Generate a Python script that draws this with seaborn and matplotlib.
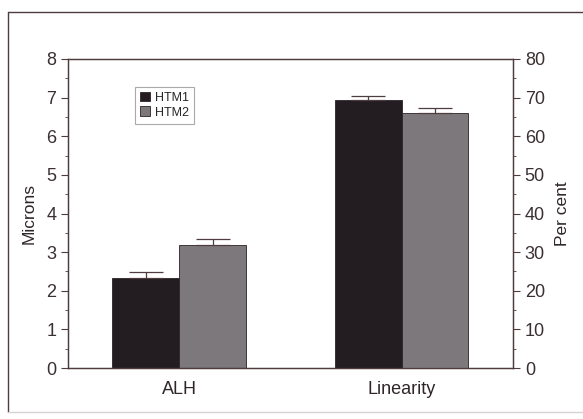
import numpy as np
import pandas as pd
import seaborn as sns
import matplotlib.pyplot as plt
from matplotlib.patches import Patch
from matplotlib.ticker import MultipleLocator

# data
measures = ['ALH', 'Linearity']
groups = ['HTM1', 'HTM2']
alh_mean = [2.33, 3.19]       # microns
alh_err = [0.16, 0.16]
lin_mean = [69.4, 65.9]       # per cent
lin_err = [1.1, 1.3]

colors = {'HTM1': '#241c21', 'HTM2': '#7d777c'}
ink = '#4e3c3e'

df_alh = pd.DataFrame({'measure': 'ALH', 'group': groups, 'value': alh_mean, 'err': alh_err})
df_lin = pd.DataFrame({'measure': 'Linearity', 'group': groups, 'value': lin_mean, 'err': lin_err})

sns.set_style('ticks')
plt.rcParams['font.family'] = ['Liberation Sans', 'DejaVu Sans']

fig = plt.figure(figsize=(5.83, 4.19), dpi=100)
ax = fig.add_axes([0.1166, 0.1217, 0.7633, 0.7375])
ax2 = ax.twinx()

sns.barplot(data=df_alh, x='measure', y='value', hue='group', order=measures,
            hue_order=groups, palette=colors, errorbar=None, width=0.6,
            edgecolor='#2a2226', linewidth=0.6, ax=ax)
sns.barplot(data=df_lin, x='measure', y='value', hue='group', order=measures,
            hue_order=groups, palette=colors, errorbar=None, width=0.6,
            edgecolor='#2a2226', linewidth=0.6, ax=ax2)

# upward-only error bars at bar centres
for a, df in [(ax, df_alh), (ax2, df_lin)]:
    for cont, g in zip(a.containers, groups):
        row = df[df['group'] == g].iloc[0]
        for bar in cont:
            if np.isnan(bar.get_height()) or bar.get_height() == 0:
                continue
            xc = bar.get_x() + bar.get_width() / 2
            a.errorbar(xc, row['value'], yerr=[[0], [row['err']]], fmt='none',
                       ecolor=ink, elinewidth=0.9, capsize=12, capthick=0.9)

for a in (ax, ax2):
    if a.get_legend() is not None:
        a.get_legend().remove()

ax.set_ylim(0, 8)
ax2.set_ylim(0, 80)
ax.set_xlim(-0.5, 1.5)
ax.yaxis.set_major_locator(MultipleLocator(1))
ax.yaxis.set_minor_locator(MultipleLocator(0.5))
ax2.yaxis.set_major_locator(MultipleLocator(10))
ax2.yaxis.set_minor_locator(MultipleLocator(5))

ax.set_xlabel('')
ax.set_ylabel('Microns', fontsize=12.5, color='#2e2628', labelpad=7)
ax2.set_ylabel('Per cent', fontsize=12.5, color='#2e2628', labelpad=7)
ax.tick_params(axis='x', length=0, labelsize=13, colors='#2e2628', pad=9)
for a in (ax, ax2):
    a.tick_params(axis='y', which='major', length=5, width=0.8, color=ink,
                  labelsize=13, labelcolor='#3a3032')
    a.tick_params(axis='y', which='minor', length=2.5, width=0.6, color=ink)
    for s in a.spines.values():
        s.set_visible(True)
        s.set_color(ink)
        s.set_linewidth(0.9)

handles = [Patch(facecolor=colors[g], edgecolor='#2a2226', linewidth=0.6) for g in groups]
leg = ax2.legend(handles, groups, loc='upper left', bbox_to_anchor=(0.15, 0.91),
                 borderaxespad=0, fontsize=9, handlelength=0.8, handleheight=0.8,
                 handletextpad=0.4, labelspacing=0.2, borderpad=0.4,
                 fancybox=False, frameon=True)
leg.get_frame().set_edgecolor('#9a9494')
leg.get_frame().set_linewidth(0.8)

# outer frame of the scanned figure
fig.add_artist(plt.Line2D([0.014, 1.0], [0.971, 0.971], color=ink, lw=1.0,
                          transform=fig.transFigure))
fig.add_artist(plt.Line2D([0.014, 0.014], [0.971, 0.017], color=ink, lw=1.0,
                          transform=fig.transFigure))
fig.add_artist(plt.Line2D([0.014, 1.0], [0.017, 0.017], color='#d8d2d2', lw=1.0,
                          transform=fig.transFigure))

fig.savefig('out.png', dpi=100)
